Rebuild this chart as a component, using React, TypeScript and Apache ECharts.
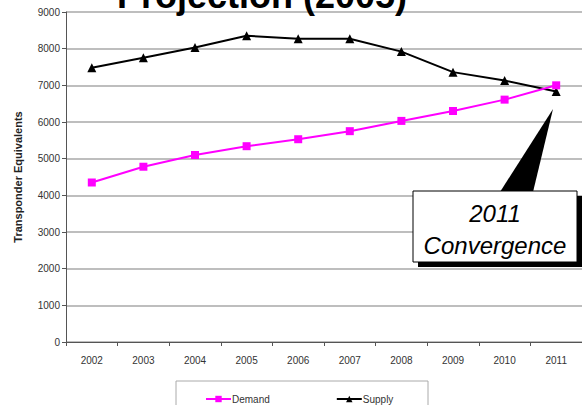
import React, { useEffect, useRef } from "react";
import * as echarts from "echarts";

const years = ["2002", "2003", "2004", "2005", "2006", "2007", "2008", "2009", "2010", "2011"];
const demand = [4350, 4780, 5100, 5340, 5530, 5750, 6030, 6300, 6610, 7000];
const supply = [7480, 7750, 8030, 8350, 8270, 8270, 7920, 7360, 7130, 6830];
const yTicks = { min: 0, max: 9000, interval: 1000 };

const FONT = "Arial, 'Liberation Sans', sans-serif";

export default function App() {
  const ref = useRef<HTMLDivElement>(null);
  useEffect(() => {
    if (!ref.current) return;
    const chart = echarts.init(ref.current, null, { renderer: "svg" });
    chart.setOption({
      animation: false,
      backgroundColor: "#ffffff",
      textStyle: { fontFamily: FONT },
      grid: { left: 66, top: 12, right: -7, bottom: 63, containLabel: false },
      xAxis: {
        type: "category",
        data: years,
        boundaryGap: true,
        axisLine: { lineStyle: { color: "#555", width: 1 } },
        axisTick: { show: true, length: 4, lineStyle: { color: "#555" }, alignWithLabel: false },
        axisLabel: { color: "#333", fontSize: 10, fontFamily: FONT, margin: 13 },
        splitLine: { show: false },
      },
      yAxis: {
        type: "value",
        min: yTicks.min,
        max: yTicks.max,
        interval: yTicks.interval,
        name: "Transponder Equivalents",
        nameLocation: "middle",
        nameGap: 43,
        nameTextStyle: { fontSize: 11, fontWeight: "bold", color: "#222", fontFamily: FONT },
        axisLine: { show: true, lineStyle: { color: "#555", width: 1 } },
        axisTick: { show: true, length: 4, lineStyle: { color: "#555" } },
        axisLabel: {
          color: "#333",
          fontSize: 10,
          fontFamily: FONT,
          margin: 6,
          formatter: (v: number) => String(v),
        },
        splitLine: { show: true, lineStyle: { color: "#a8a8a8", width: 1.5 } },
      },
      legend: {
        left: 200,
        top: 389,
        itemWidth: 25,
        itemHeight: 8,
        itemGap: 66,
        textStyle: { fontSize: 10, color: "#333", fontFamily: FONT, padding: [0, 0, 0, -4] },
        data: ["Demand", "Supply"],
      },
      series: [
        {
          name: "Demand",
          type: "line",
          data: demand,
          color: "#ff00ff",
          symbol: "rect",
          symbolSize: 8,
          lineStyle: { width: 2, color: "#ff00ff" },
          itemStyle: { color: "#ff00ff" },
          z: 3,
        },
        {
          name: "Supply",
          type: "line",
          data: supply,
          color: "#000000",
          symbol: "triangle",
          symbolSize: 9,
          lineStyle: { width: 2, color: "#000000" },
          itemStyle: { color: "#000000" },
          z: 2,
        },
      ],
      graphic: [
        {
          type: "text",
          z: 20,
          style: {
            text: "Projection (2005)",
            x: 262,
            y: -23,
            align: "center",
            verticalAlign: "top",
            font: "bold 36px " + FONT,
            fill: "#000",
          },
        },
        {
          type: "rect",
          shape: { x: 176, y: 381, width: 252, height: 40 },
          style: { fill: "none", stroke: "#aaaaaa", lineWidth: 1 },
          z: 1,
        },
        {
          type: "polygon",
          shape: { points: [[553, 109], [500, 192], [533, 192]] },
          style: { fill: "#000" },
          z: 10,
        },
        {
          type: "rect",
          shape: { x: 418, y: 196, width: 164, height: 71 },
          style: { fill: "#000" },
          z: 10,
        },
        {
          type: "rect",
          shape: { x: 413, y: 191, width: 164, height: 71 },
          style: { fill: "#fff", stroke: "#000", lineWidth: 1 },
          z: 11,
        },
        {
          type: "text",
          z: 12,
          style: {
            text: "2011",
            x: 495,
            y: 213,
            align: "center",
            verticalAlign: "middle",
            font: "italic 24px " + FONT,
            fill: "#000",
          },
        },
        {
          type: "text",
          z: 12,
          style: {
            text: "Convergence",
            x: 495,
            y: 245,
            align: "center",
            verticalAlign: "middle",
            font: "italic 24px " + FONT,
            fill: "#000",
          },
        },
      ],
    });
    return () => chart.dispose();
  }, []);
  return (
    <div
      ref={ref}
      style={{ position: "fixed", left: 0, top: 0, width: 582, height: 405, background: "#fff" }}
    />
  );
}
